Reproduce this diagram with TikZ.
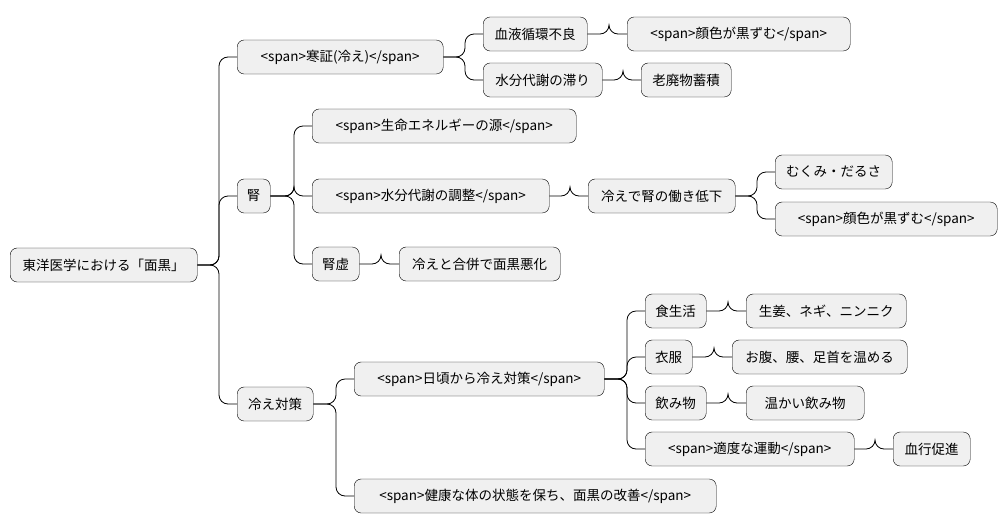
\documentclass[tikz,border=0pt]{standalone}
\usepackage{fontspec}
\setmainfont{Noto Sans CJK JP}
\usetikzlibrary{positioning}

\tikzset{
  idea/.style={draw=black, fill=black!6, rounded corners=7pt, minimum height=34pt,
    inner xsep=4pt, anchor=west, minimum width=#1, font=\fontsize{13.5pt}{15pt}\selectfont},
  link/.style={black, line width=0.8pt, rounded corners=9pt}
}

\begin{document}
\begin{tikzpicture}[x=1pt, y=-1pt]
\useasboundingbox (0,0) rectangle (1008,530);

%\draw[step=50, gray!30] (0,0) grid (1008,530);

\node[idea=187] (root) at (10,265) {東洋医学における「面黒」};

\node[idea=206] (cold) at (237,57) {<span>寒証(冷え)</span>};
\node[idea=104] (blood) at (483,34) {血液循環不良};
\node[idea=223] (dark1) at (627,34) {<span>顔色が黒ずむ</span>};
\node[idea=119] (water) at (483,80) {水分代謝の滞り};
\node[idea=90] (waste) at (641,80) {老廃物蓄積};

\node[idea=33] (kid) at (237,196) {腎};
\node[idea=264] (life) at (312,126) {<span>生命エネルギーの源</span>};
\node[idea=237] (adjust) at (312,196) {<span>水分代謝の調整</span>};
\node[idea=147] (weak) at (588,196) {冷えで腎の働き低下};
\node[idea=117] (swell) at (775,172) {むくみ・だるさ};
\node[idea=222] (dark2) at (775,219) {<span>顔色が黒ずむ</span>};
\node[idea=47] (def) at (312,264) {腎虚};
\node[idea=161] (worse) at (399,264) {冷えと合併で面黒悪化};

\node[idea=76] (care) at (237,404) {冷え対策};
\node[idea=250] (daily) at (354,379) {<span>日頃から冷え対策</span>};
\node[idea=61] (food) at (645,311) {食生活};
\node[idea=160] (ginger) at (746,311) {生姜、ネギ、ニンニク};
\node[idea=47] (cloth) at (645,357) {衣服};
\node[idea=175] (warm) at (732,357) {お腹、腰、足首を温める};
\node[idea=61] (drink) at (645,403) {飲み物};
\node[idea=118] (hot) at (746,403) {温かい飲み物};
\node[idea=209] (sport) at (645,449) {<span>適度な運動</span>};
\node[idea=77] (flow) at (893,449) {血行促進};
\node[idea=362] (keep) at (354,496) {<span>健康な体の状態を保ち、面黒の改善</span>};

% branches
\foreach \a/\b in {root/cold, root/kid, root/care, cold/blood, cold/water,
  kid/life, kid/adjust, kid/def, adjust/weak, weak/swell, weak/dark2,
  care/daily, care/keep, daily/food, daily/cloth, daily/drink, daily/sport,
  blood/dark1, water/waste, def/worse, food/ginger, cloth/warm, drink/hot, sport/flow}
  \draw[link] (\a.east) -- ([xshift=-18pt]\b.west |- \a.east) |- (\b.west);

\end{tikzpicture}
\end{document}
